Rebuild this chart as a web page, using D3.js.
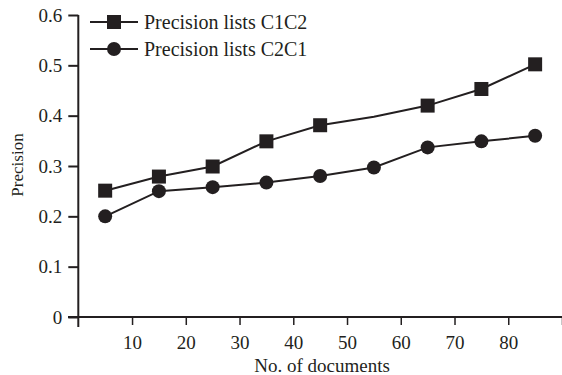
<!DOCTYPE html>
<html><head><meta charset="utf-8">
<script src="https://cdn.jsdelivr.net/npm/d3@7"></script>
<style>body{margin:0;background:#fff}svg{display:block}svg text{font-family:"Liberation Serif",serif !important;fill:#231f20}</style>
</head><body><div id="chart"></div>
<script>
const docs = [5, 15, 25, 35, 45, 55, 65, 75, 85];
const c1c2 = [0.251, 0.279, 0.299, 0.349, 0.381, 0.398, 0.420, 0.453, 0.502];
const c2c1 = [0.200, 0.250, 0.258, 0.267, 0.280, 0.297, 0.337, 0.349, 0.360];
const c1c2Markers = [true, true, true, true, true, false, true, true, true];
const xTicks = [10, 20, 30, 40, 50, 60, 70, 80, 90];
const xTickLabels = ["10", "20", "30", "40", "50", "60", "70", "80", ""];
const yTicks = [0, 0.1, 0.2, 0.3, 0.4, 0.5, 0.6];
const yTickLabels = ["0", "0.1", "0.2", "0.3", "0.4", "0.5", "0.6"];
const seriesNames = ["Precision lists C1C2", "Precision lists C2C1"];

const W = 562, H = 375, ink = "#231f20";
const svg = d3.select("#chart").append("svg").attr("width", W).attr("height", H);
const x = d3.scaleLinear().domain([0, 90]).range([78.3, 562]);
const y = d3.scaleLinear().domain([0, 0.6]).range([317, 15]);

// axes
const xAxis = svg.append("g").attr("transform", `translate(0,${y(0)})`)
  .call(d3.axisBottom(x).tickValues(xTicks).tickFormat((d, i) => xTickLabels[i]).tickSize(8).tickPadding(11).tickSizeOuter(0))
  .attr("font-family", "Liberation Serif").attr("font-size", 19);
xAxis.select(".domain").remove();
xAxis.append("line").attr("x1", 68).attr("x2", W).attr("stroke", ink).attr("stroke-width", 2);
xAxis.selectAll(".tick line").attr("stroke", ink).attr("stroke-width", 1.5);
xAxis.selectAll("text").attr("fill", ink);

const yAxis = svg.append("g").attr("transform", `translate(${x(0)},0)`)
  .call(d3.axisLeft(y).tickValues(yTicks).tickFormat((d, i) => yTickLabels[i]).tickSize(10).tickPadding(6).tickSizeOuter(0))
  .attr("font-family", "Liberation Serif").attr("font-size", 19);
yAxis.select(".domain").remove();
yAxis.append("line").attr("y1", y(0.6)).attr("y2", 327).attr("stroke", ink).attr("stroke-width", 2);
yAxis.selectAll(".tick line").attr("stroke", ink).attr("stroke-width", 2);
yAxis.selectAll("text").attr("fill", ink);

svg.append("text").attr("x", 322).attr("y", 372).attr("text-anchor", "middle").attr("font-size", 19).text("No. of documents");
svg.append("text").attr("transform", "translate(23,165) rotate(-90)").attr("text-anchor", "middle").attr("font-size", 17).text("Precision");

const line = d3.line().x(d => x(d[0])).y(d => y(d[1]));
const d1 = docs.map((d, i) => [d, c1c2[i]]);
const d2 = docs.map((d, i) => [d, c2c1[i]]);
svg.append("path").datum(d1).attr("d", line).attr("fill", "none").attr("stroke", ink).attr("stroke-width", 2);
svg.append("path").datum(d2).attr("d", line).attr("fill", "none").attr("stroke", ink).attr("stroke-width", 2);
const sq = 14;
svg.selectAll(".sq").data(d1.filter((d, i) => c1c2Markers[i])).enter().append("rect")
  .attr("x", d => x(d[0]) - sq / 2).attr("y", d => y(d[1]) - sq / 2).attr("width", sq).attr("height", sq).attr("fill", ink);
svg.selectAll(".ci").data(d2).enter().append("circle")
  .attr("cx", d => x(d[0])).attr("cy", d => y(d[1])).attr("r", 7).attr("fill", ink);

// legend
const lg = svg.append("g");
[22, 49].forEach((ly, i) => {
  lg.append("line").attr("x1", 90).attr("x2", 138).attr("y1", ly).attr("y2", ly).attr("stroke", ink).attr("stroke-width", 2);
  if (i === 0) lg.append("rect").attr("x", 114 - sq / 2).attr("y", ly - sq / 2).attr("width", sq).attr("height", sq).attr("fill", ink);
  else lg.append("circle").attr("cx", 114).attr("cy", ly).attr("r", 7).attr("fill", ink);
  lg.append("text").attr("x", 144).attr("y", ly + 7).attr("font-size", 20).text(seriesNames[i]);
});
</script></body></html>
